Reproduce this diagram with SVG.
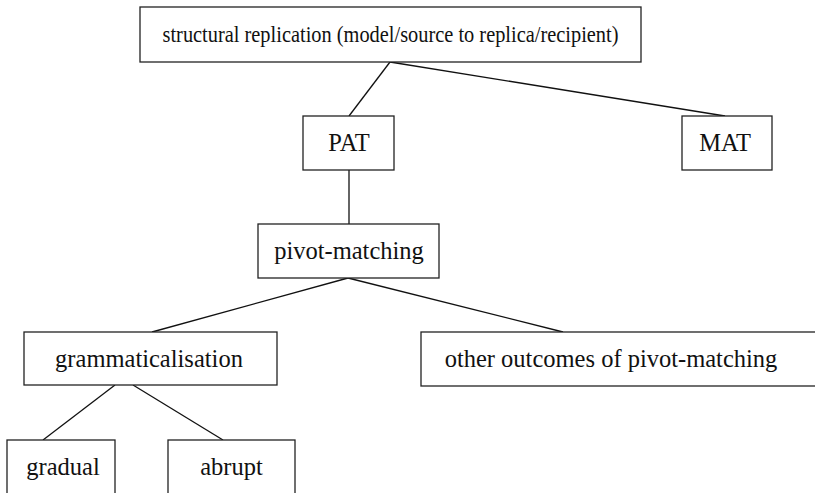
<svg xmlns="http://www.w3.org/2000/svg" width="815" height="493" viewBox="0 0 815 493">
<style>
.box{fill:#fff;stroke:#222;stroke-width:1.3}
.t{font-family:"Liberation Serif","Times New Roman",serif;font-size:24.5px;fill:#111;text-anchor:middle}
.c line{stroke:#111;stroke-width:1.3}
</style>
<rect width="815" height="493" fill="#fff"/>
<g class="c" id="connectors">
<line x1="390" y1="62" x2="349" y2="116"/>
<line x1="390" y1="62" x2="725" y2="116"/>
<line x1="349" y1="170" x2="349" y2="224"/>
<line x1="348" y1="278" x2="152" y2="332"/>
<line x1="348" y1="278" x2="563" y2="332"/>
<line x1="115" y1="385" x2="43" y2="440"/>
<line x1="133" y1="385" x2="223" y2="440"/>
</g>
<g id="n-root"><rect class="box" x="140" y="7" width="501" height="55"/><text class="t" x="390.5" y="42" style="font-size:23px" textLength="456" lengthAdjust="spacingAndGlyphs">structural replication (model/source to replica/recipient)</text></g>
<g id="n-pat"><rect class="box" x="303" y="116" width="91" height="54"/><text class="t" x="349" y="151">PAT</text></g>
<g id="n-mat"><rect class="box" x="682" y="116" width="90" height="54"/><text class="t" x="725" y="151">MAT</text></g>
<g id="n-pivot"><rect class="box" x="258" y="224" width="181" height="54"/><text class="t" x="349" y="258.5">pivot-matching</text></g>
<g id="n-gram"><rect class="box" x="24" y="332" width="253" height="53"/><text class="t" x="149" y="366.5">grammaticalisation</text></g>
<g id="n-other"><rect class="box" x="421" y="332" width="400" height="54"/><text class="t" x="611" y="366.5">other outcomes of pivot-matching</text></g>
<g id="n-gradual"><rect class="box" x="7" y="440" width="108" height="60"/><text class="t" x="63" y="475">gradual</text></g>
<g id="n-abrupt"><rect class="box" x="168" y="440" width="127" height="60"/><text class="t" x="231.5" y="475">abrupt</text></g>
</svg>
